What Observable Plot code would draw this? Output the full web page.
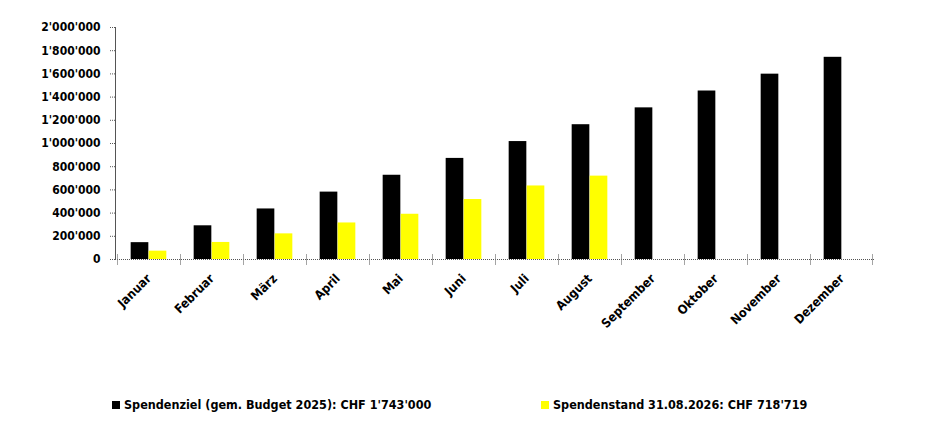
<!DOCTYPE html>
<html>
<head>
<meta charset="utf-8">
<script src="https://cdn.jsdelivr.net/npm/d3@7"></script>
<script src="https://cdn.jsdelivr.net/npm/@observablehq/plot@0.6"></script>
<style>
  body { margin: 0; background: #fff; font-family: "DejaVu Sans Condensed", "DejaVu Sans", sans-serif; font-weight: bold; }
  #wrap { position: relative; width: 942px; height: 432px; }
  .leg { position: absolute; top: 397px; font-size: 12.5px; line-height: 16px; white-space: nowrap; color: #000; }
  .sw { display: inline-block; width: 8px; height: 8px; margin-right: 4px; vertical-align: 0px; }
</style>
</head>
<body>
<div id="wrap">
  <div id="chart"></div>
  <div class="leg" style="left:112px"><span class="sw" style="background:#000"></span>Spendenziel (gem. Budget 2025): CHF 1'743'000</div>
  <div class="leg" style="left:541px"><span class="sw" style="background:#ffff00"></span>Spendenstand 31.08.2026: CHF 718'719</div>
</div>
<script>
const months = ["Januar","Februar","März","April","Mai","Juni","Juli","August","September","Oktober","November","Dezember"];
const goal = [145250, 290500, 435750, 581000, 726250, 871500, 1016750, 1162000, 1307250, 1452500, 1597750, 1743000];
const actual = [72000, 147000, 221000, 315000, 390000, 517000, 634000, 718719, null, null, null, null];
const yTicks = [0, 200000, 400000, 600000, 800000, 1000000, 1200000, 1400000, 1600000, 1800000, 2000000];

const rows = months.map((m, i) => ({month: m, goal: goal[i], actual: actual[i]}));
const fmt = d3.formatLocale({decimal: ".", thousands: "'", grouping: [3], currency: ["", ""]}).format(",d");

const W = 942, H = 380, ML = 115, MR = 67, MT = 27, MB = 121;
const step = (W - ML - MR) / months.length;
const bw = 18;
const L = (step - 2 * bw) / 2;
const axisColor = "#555";

const chart = Plot.plot({
  width: W, height: H,
  marginLeft: ML, marginRight: MR, marginTop: MT, marginBottom: MB,
  style: {fontFamily: "'DejaVu Sans Condensed', 'DejaVu Sans', sans-serif", fontWeight: "bold", fontSize: "12px", color: "#000", background: "#fff"},
  x: {type: "band", domain: months, padding: 0, axis: null},
  y: {domain: [0, 2000000], axis: null},
  marks: [
    Plot.barY(rows, {x: "month", y: "goal", fill: "#000", insetLeft: L, insetRight: L + bw}),
    Plot.barY(rows.filter(d => d.actual != null), {x: "month", y: "actual", fill: "#ffff00", insetLeft: L + bw, insetRight: L}),
    Plot.frame({anchor: "left", stroke: axisColor, strokeDasharray: "1,1"}),
    Plot.ruleY([0], {stroke: axisColor, strokeDasharray: "1,1"}),
    Plot.barY(months, {x: d => d, y1: 0, y2: 0, insetTop: -5, insetBottom: -6, insetRight: step - 1, fill: "#777"}),
    Plot.barY([months[months.length - 1]], {x: d => d, y1: 0, y2: 0, insetTop: -5, insetBottom: -6, insetLeft: step - 1, fill: "#777"}),
    Plot.axisY(yTicks, {tickFormat: fmt, tickSize: 6, tickPadding: 9, stroke: axisColor, strokeDasharray: "1,1", fill: "#000", fontSize: 12, fontWeight: "bold", label: null}),
    Plot.axisX(months, {tickSize: 0, tickPadding: 17, tickRotate: -45, fill: "#000", fontSize: 12.5, fontWeight: "bold", label: null})
  ]
});
document.getElementById("chart").appendChild(chart);
</script>
</body>
</html>
